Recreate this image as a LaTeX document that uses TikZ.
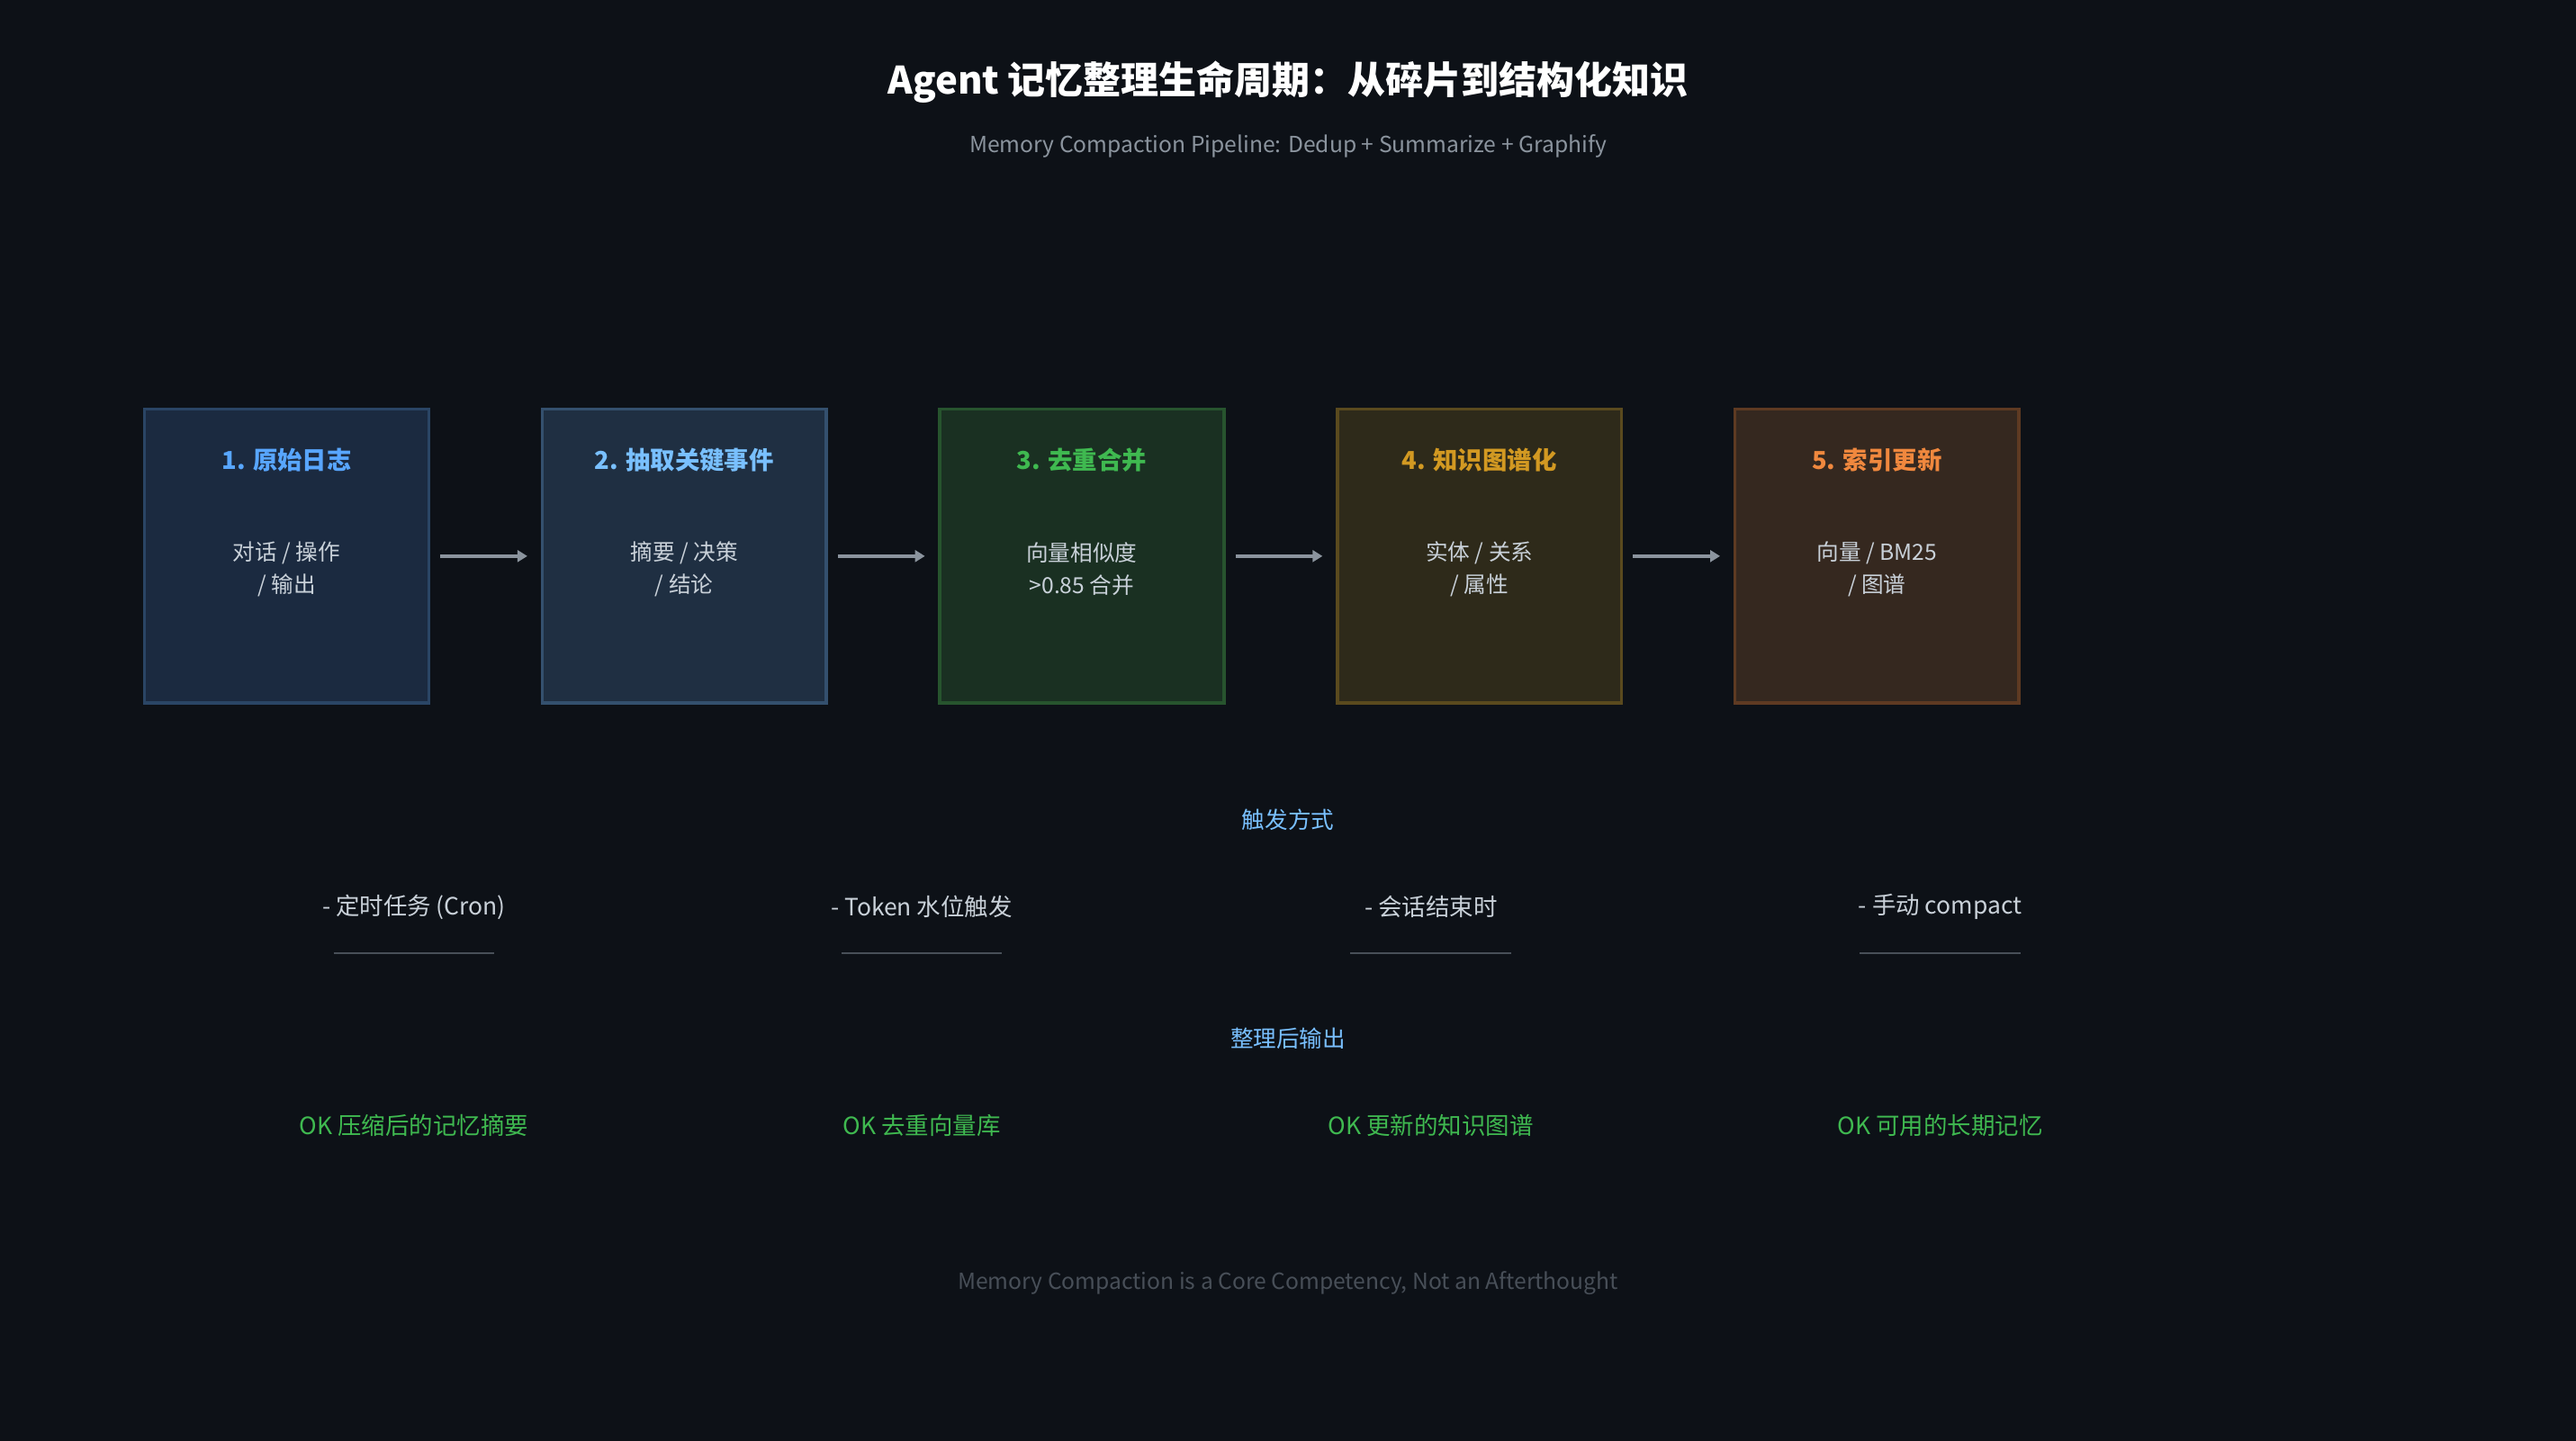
\documentclass[tikz,border=0pt]{standalone}
\usepackage{fontspec}
\setmainfont{Noto Sans CJK SC}
\usepackage{tikz}
\usetikzlibrary{arrows.meta,positioning}
\definecolor{bgc}{HTML}{0D1117}
\definecolor{txt}{HTML}{C9D1D9}
\definecolor{dim}{HTML}{8B949E}
\definecolor{faint}{HTML}{484F58}
\definecolor{lblue}{HTML}{79C0FF}
\definecolor{okgreen}{HTML}{3FB950}
\definecolor{fa}{HTML}{1B2A40}\definecolor{da}{HTML}{2A4565}\definecolor{ta}{HTML}{58A6FF}
\definecolor{fb}{HTML}{1F2F42}\definecolor{db}{HTML}{34506E}\definecolor{tb}{HTML}{79C0FF}
\definecolor{fc}{HTML}{1A3022}\definecolor{dc}{HTML}{27542E}\definecolor{tc}{HTML}{3FB950}
\definecolor{fd}{HTML}{2E2A1A}\definecolor{dd}{HTML}{5A4A1E}\definecolor{td}{HTML}{D29922}
\definecolor{fe}{HTML}{35281F}\definecolor{de}{HTML}{5E3A22}\definecolor{te}{HTML}{F0883E}
\begin{document}
\begin{tikzpicture}[x=1pt,y=-1pt,
  stage/.style={draw, line width=2pt, minimum width=173pt, minimum height=179pt},
  flow/.style={draw=dim, line width=2pt, -{Triangle[length=6pt,width=7pt]}},
  body/.style={text=txt, font=\fontsize{13.5}{19.5}\selectfont, align=center},
  head/.style={font=\fontsize{15}{18}\selectfont\bfseries}]
\fill[bgc] (0,0) rectangle (1568,877);
\node (title) at (784,50) [text=white, font=\fontsize{23}{28}\selectfont\bfseries] {Agent 记忆整理生命周期：从碎片到结构化知识};
\node (sub) at (784,89) [text=dim, font=\fontsize{13.5}{16}\selectfont] {Memory Compaction Pipeline: Dedup + Summarize + Graphify};
% stages
\foreach \i/\x/\f/\d/\t/\h/\b in {
  1/174.5/fa/da/ta/1. 原始日志/{对话 / 操作\\ / 输出},
  2/416.5/fb/db/tb/2. 抽取关键事件/{摘要 / 决策\\ / 结论},
  3/658.5/fc/dc/tc/3. 去重合并/{向量相似度\\ >0.85 合并},
  4/900.5/fd/dd/td/4. 知识图谱化/{实体 / 关系\\ / 属性},
  5/1142.5/fe/de/te/5. 索引更新/{向量 / BM25\\ / 图谱}}{
  \node (s\i) at (\x,338.5) [stage, fill=\f, draw=\d] {};
  \node (h\i) at (\x,280) [head, text=\t] {\h};
  \node (b\i) at (\x,346.5) [body] {\b};
}
\foreach \a/\b in {1/2,2/3,3/4,4/5}
  \draw[flow] ([xshift=6pt]s\a.east) -- ([xshift=-8pt]s\b.west);
% triggers
\node (trig) at (784,499) [text=lblue, font=\fontsize{14}{17}\selectfont] {触发方式};
\foreach \i/\x/\t in {1/252/- 定时任务 (Cron),2/561/- Token 水位触发,3/871/- 会话结束时,4/1181/- 手动 compact}{
  \node (t\i) at (\x,552) [text=txt, font=\fontsize{14.5}{17}\selectfont] {\t};
  \draw[faint, line width=1.2pt] (\x-49,580) -- (\x+49,580);
}
% outputs
\node (outp) at (784,632) [text=lblue, font=\fontsize{14}{17}\selectfont] {整理后输出};
\foreach \i/\x/\t in {1/252/OK 压缩后的记忆摘要,2/561/OK 去重向量库,3/871/OK 更新的知识图谱,4/1181/OK 可用的长期记忆}
  \node (o\i) at (\x,685) [text=okgreen, font=\fontsize{14.5}{17}\selectfont] {\t};
\node (foot) at (784,781) [text=faint, font=\fontsize{13.5}{16}\selectfont] {Memory Compaction is a Core Competency, Not an Afterthought};
\end{tikzpicture}
\end{document}
